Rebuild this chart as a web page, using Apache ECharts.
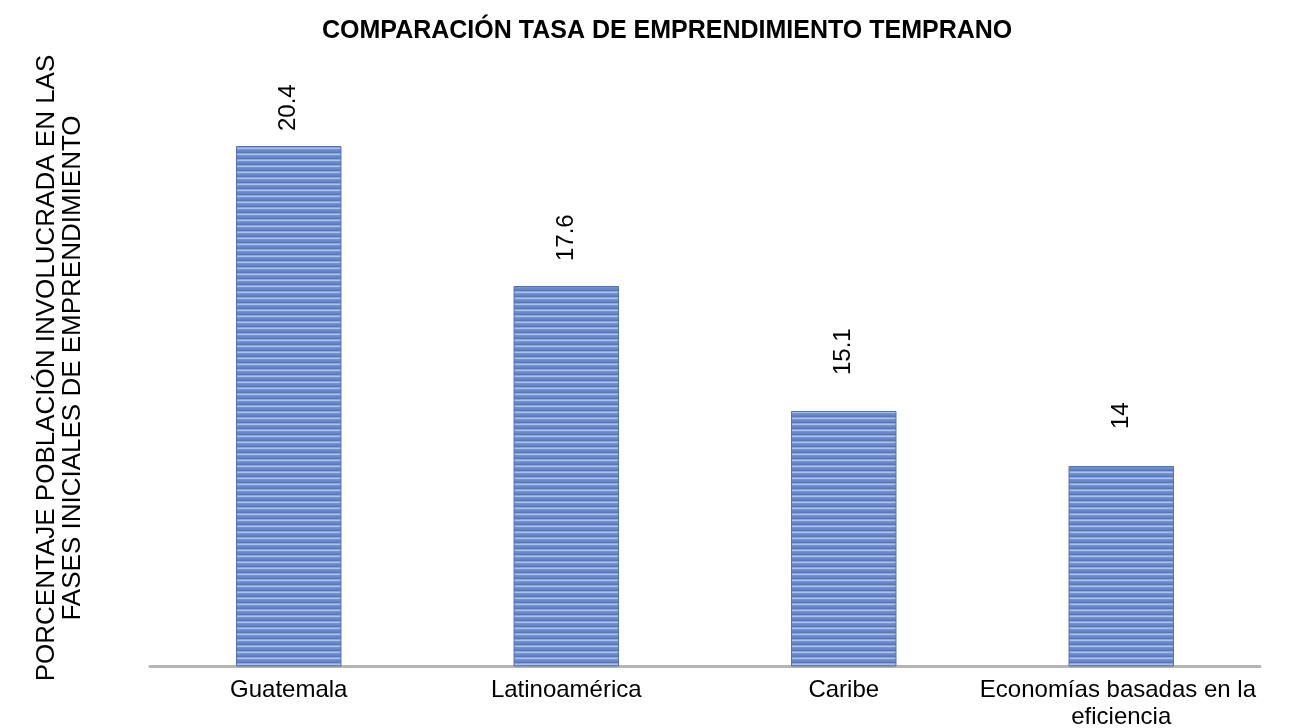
<!DOCTYPE html>
<html>
<head>
<meta charset="utf-8">
<script src="https://cdn.jsdelivr.net/npm/echarts@6/dist/echarts.min.js"></script>
<style>
  html, body { margin: 0; padding: 0; background: #fff; }
  #chart { width: 1313px; height: 728px; }
</style>
</head>
<body>
<div id="chart"></div>
<script>
// data
var categories = ["Guatemala", "Latinoamérica", "Caribe", "Economías basadas en la eficiencia"];
var values = [20.4, 17.6, 15.1, 14];

var FONT = '"Liberation Sans", Arial, sans-serif';

// striped fill for the bars (horizontal lines like the original)
var stripe = document.createElement("canvas");
stripe.width = 8;
stripe.height = 6;
var ctx = stripe.getContext("2d");
var rows = ["#6a8ac9", "#6282c3", "#587abc", "#8ca6d8", "#abc0e6", "#7393ce"];
rows.forEach(function (c, i) {
  ctx.fillStyle = c;
  ctx.fillRect(0, i, 8, 1);
});

// the value labels sit at slightly different gaps above each bar
var labelGap = [15, 25, 36, 37];

var chart = echarts.init(document.getElementById("chart"));

var option = {
  animation: false,
  title: {
    text: "COMPARACIÓN TASA DE EMPRENDIMIENTO TEMPRANO",
    left: 317,
    top: 14,
    textStyle: {
      fontFamily: FONT,
      fontSize: 25,
      fontWeight: "bold",
      color: "#000",
    },
  },
  grid: {
    left: 150,
    right: 53,
    top: 116,
    bottom: 62,
    outerBoundsMode: "none",
  },
  xAxis: {
    type: "category",
    data: categories,
    axisLine: {
      lineStyle: { color: "#b5b5b5", width: 3 },
    },
    axisTick: { show: false },
    axisLabel: {
      interval: 0,
      margin: 11,
      width: 320,
      overflow: "break",
      fontFamily: FONT,
      fontSize: 24,
      lineHeight: 27,
      color: "#000",
    },
  },
  yAxis: {
    type: "value",
    min: 10,
    max: 21,
    show: false,
  },
  graphic: [
    {
      type: "text",
      x: 60,
      y: 368,
      rotation: Math.PI / 2,
      style: {
        text: "PORCENTAJE POBLACIÓN INVOLUCRADA EN LAS\nFASES INICIALES DE EMPRENDIMIENTO",
        fontFamily: FONT,
        fontSize: 26,
        lineHeight: 26,
        align: "center",
        verticalAlign: "middle",
        fill: "#000",
      },
    },
  ],
  series: [
    {
      type: "bar",
      barWidth: "38%",
      data: values.map(function (v, i) {
        return {
          value: v,
          label: { distance: labelGap[i] },
        };
      }),
      itemStyle: {
        color: { image: stripe, repeat: "repeat" },
        borderColor: "#5273b0",
        borderWidth: 1,
      },
      label: {
        show: true,
        position: "top",
        rotate: 90,
        align: "left",
        verticalAlign: "middle",
        fontFamily: FONT,
        fontSize: 24,
        color: "#000",
      },
    },
  ],
};

chart.setOption(option);
</script>
</body>
</html>
